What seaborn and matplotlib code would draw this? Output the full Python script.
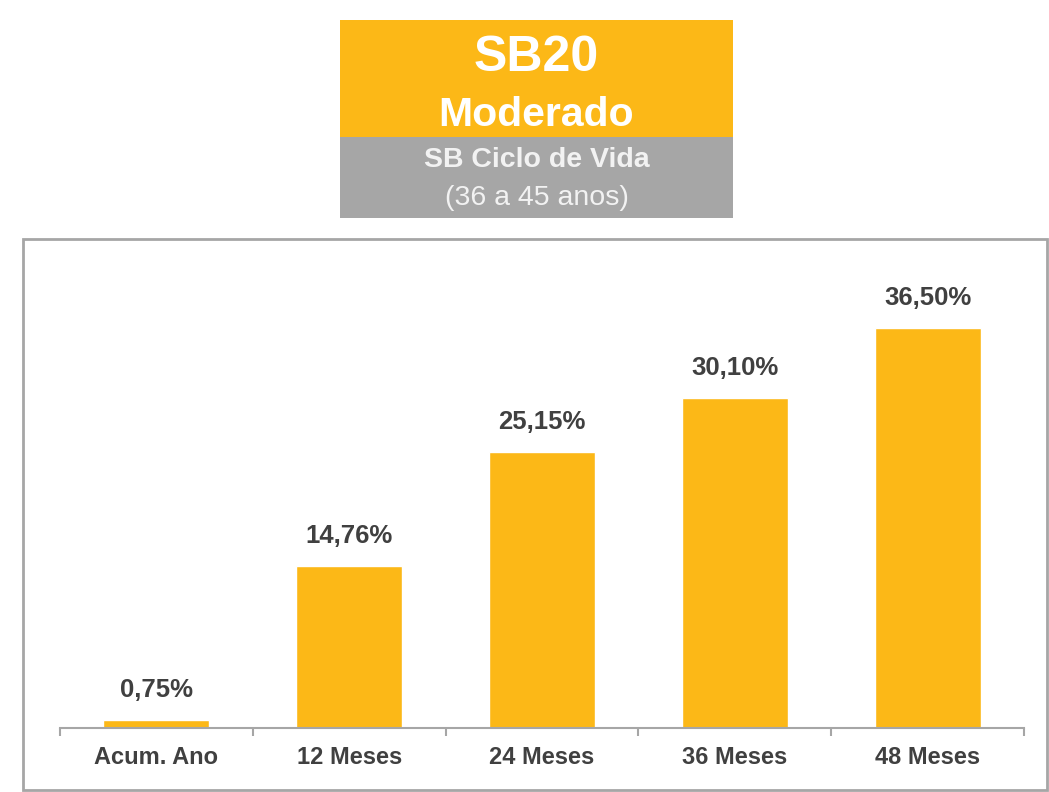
import matplotlib
matplotlib.use('Agg')
import matplotlib.pyplot as plt
from matplotlib.patches import Rectangle
from matplotlib.ticker import FixedLocator
import seaborn as sns
import pandas as pd

# Chart data
periods = ['Acum. Ano', '12 Meses', '24 Meses', '36 Meses', '48 Meses']
returns = [0.75, 14.76, 25.15, 30.10, 36.50]
value_labels = ['0,75%', '14,76%', '25,15%', '30,10%', '36,50%']

title_main = 'SB20'
title_profile = 'Moderado'
subtitle_1 = 'SB Ciclo de Vida'
subtitle_2 = '(36 a 45 anos)'

ORANGE = '#FCB817'
GRAY = '#A6A6A6'
TEXT = '#404040'

sns.set_theme(style='white')
plt.rcParams['font.family'] = ['Liberation Sans', 'DejaVu Sans']

df = pd.DataFrame({'Periodo': periods, 'Retorno': returns})

fig = plt.figure(figsize=(10.49, 7.92), dpi=100)

# Outer frame around the chart area
fig.patches.append(Rectangle((0.0219, 0.0025), 0.976, 0.696, transform=fig.transFigure,
                             fill=False, edgecolor=GRAY, linewidth=2, zorder=0))

# Title boxes
fig.patches.append(Rectangle((0.324, 0.827), 0.3746, 0.1477, transform=fig.transFigure,
                             facecolor=ORANGE, edgecolor='none'))
fig.patches.append(Rectangle((0.324, 0.7247), 0.3746, 0.1023, transform=fig.transFigure,
                             facecolor=GRAY, edgecolor='none'))
cx = 0.5114
fig.text(cx, 0.9107, title_main, ha='center', va='baseline', color='white',
         fontsize=36, fontweight='bold')
fig.text(cx, 0.8409, title_profile, ha='center', va='baseline', color='white',
         fontsize=29.5, fontweight='bold')
fig.text(cx, 0.7891, subtitle_1, ha='center', va='baseline', color='#F2F2F2',
         fontsize=20.5, fontweight='bold')
fig.text(cx, 0.7412, subtitle_2, ha='center', va='baseline', color='#F2F2F2',
         fontsize=20.5)

ax = fig.add_axes([0.0572, 0.0808, 0.919, 0.591])
sns.barplot(data=df, x='Periodo', y='Retorno', color=ORANGE, saturation=1,
            width=0.55, ax=ax)
ax.set_xlim(-0.5, 4.5)
ax.set_ylim(0, 42.7)

for i, (v, lab) in enumerate(zip(returns, value_labels)):
    ax.annotate(lab, (i, v), xytext=(0, 13), textcoords='offset points',
                ha='center', va='bottom', fontsize=18.5, fontweight='bold', color=TEXT)

for side in ['top', 'right', 'left']:
    ax.spines[side].set_visible(False)
ax.spines['bottom'].set_color(GRAY)
ax.spines['bottom'].set_linewidth(1.5)
ax.set_yticks([])
ax.set_xlabel('')
ax.set_ylabel('')
ax.tick_params(axis='x', which='major', length=0, pad=13, labelsize=17, labelcolor=TEXT)
for t in ax.get_xticklabels():
    t.set_fontweight('bold')
ax.xaxis.set_minor_locator(FixedLocator([-0.5, 0.5, 1.5, 2.5, 3.5, 4.5]))
ax.tick_params(axis='x', which='minor', bottom=True, direction='out', length=6,
               width=1.5, color=GRAY)
ax.patch.set_alpha(0)

fig.savefig('out.png', dpi=100)
